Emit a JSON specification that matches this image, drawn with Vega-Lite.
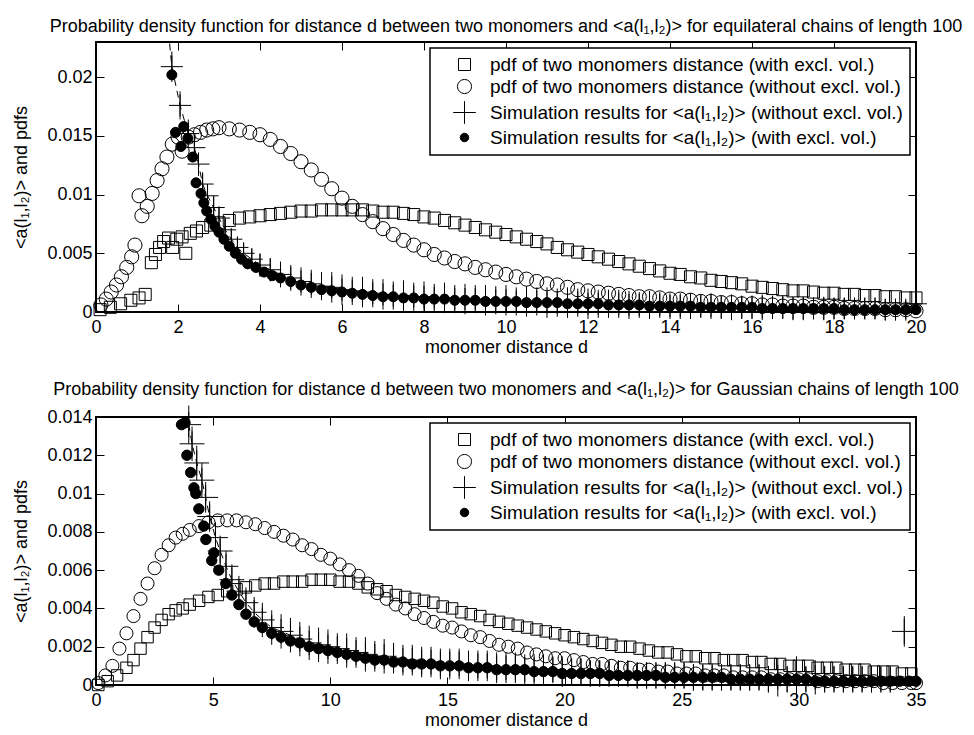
{
"$schema": "https://vega.github.io/schema/vega-lite/v6.json",
"background": "white",
"padding": {"left": 11, "top": 16, "right": 5, "bottom": 5},
"spacing": 23,
"datasets": {
"tS": [{"x":0.1,"y":0.0002},{"x":0.35,"y":0.0004},{"x":0.6,"y":0.0007},{"x":0.85,"y":0.001},{"x":1.05,"y":0.0012},{"x":1.2,"y":0.0015},{"x":1.35,"y":0.0042},{"x":1.45,"y":0.0049},{"x":1.55,"y":0.0055},{"x":1.65,"y":0.006},{"x":1.77,"y":0.0063},{"x":1.87,"y":0.0055},{"x":1.97,"y":0.0062},{"x":2.1,"y":0.0064},{"x":2.19,"y":0.005},{"x":2.3,"y":0.0067},{"x":2.45,"y":0.0069},{"x":2.6,"y":0.0072},{"x":2.8,"y":0.0074},{"x":3.0,"y":0.0076},{"x":3.25,"y":0.0078},{"x":3.5,"y":0.008},{"x":3.75,"y":0.0081},{"x":4.0,"y":0.0082},{"x":4.25,"y":0.0083},{"x":4.5,"y":0.0084},{"x":4.75,"y":0.0085},{"x":5.0,"y":0.0086},{"x":5.25,"y":0.0086},{"x":5.5,"y":0.0087},{"x":5.75,"y":0.0087},{"x":6.0,"y":0.0087},{"x":6.25,"y":0.0087},{"x":6.5,"y":0.0087},{"x":6.75,"y":0.0086},{"x":7.0,"y":0.0085},{"x":7.25,"y":0.0085},{"x":7.5,"y":0.0084},{"x":7.75,"y":0.0083},{"x":8.0,"y":0.0081},{"x":8.25,"y":0.008},{"x":8.5,"y":0.0078},{"x":8.75,"y":0.0076},{"x":9.0,"y":0.0074},{"x":9.25,"y":0.0072},{"x":9.5,"y":0.007},{"x":9.75,"y":0.0068},{"x":10.0,"y":0.0066},{"x":10.25,"y":0.0064},{"x":10.5,"y":0.0062},{"x":10.75,"y":0.006},{"x":11.0,"y":0.0058},{"x":11.25,"y":0.0055},{"x":11.5,"y":0.0053},{"x":11.75,"y":0.0051},{"x":12.0,"y":0.0049},{"x":12.25,"y":0.0047},{"x":12.5,"y":0.0045},{"x":12.75,"y":0.0043},{"x":13.0,"y":0.0041},{"x":13.25,"y":0.0039},{"x":13.5,"y":0.0037},{"x":13.75,"y":0.0035},{"x":14.0,"y":0.0033},{"x":14.25,"y":0.0032},{"x":14.5,"y":0.003},{"x":14.75,"y":0.0029},{"x":15.0,"y":0.0027},{"x":15.25,"y":0.0026},{"x":15.5,"y":0.0025},{"x":15.75,"y":0.0024},{"x":16.0,"y":0.0022},{"x":16.25,"y":0.0021},{"x":16.5,"y":0.002},{"x":16.75,"y":0.0019},{"x":17.0,"y":0.0018},{"x":17.25,"y":0.0018},{"x":17.5,"y":0.0017},{"x":17.75,"y":0.0016},{"x":18.0,"y":0.0016},{"x":18.25,"y":0.0015},{"x":18.5,"y":0.0015},{"x":18.75,"y":0.0014},{"x":19.0,"y":0.0014},{"x":19.25,"y":0.0013},{"x":19.5,"y":0.0013},{"x":19.75,"y":0.0012},{"x":20.0,"y":0.0012}],
"tC": [{"x":0.12,"y":0.0006},{"x":0.25,"y":0.0011},{"x":0.37,"y":0.0017},{"x":0.5,"y":0.0023},{"x":0.62,"y":0.003},{"x":0.75,"y":0.0038},{"x":0.87,"y":0.0047},{"x":0.95,"y":0.0057},{"x":1.05,"y":0.0099},{"x":1.12,"y":0.0082},{"x":1.25,"y":0.009},{"x":1.37,"y":0.0101},{"x":1.49,"y":0.0112},{"x":1.61,"y":0.0122},{"x":1.73,"y":0.0132},{"x":1.86,"y":0.0143},{"x":2.0,"y":0.0149},{"x":2.1,"y":0.0137},{"x":2.25,"y":0.0149},{"x":2.4,"y":0.0151},{"x":2.55,"y":0.0153},{"x":2.7,"y":0.0155},{"x":2.85,"y":0.0156},{"x":3.0,"y":0.0157},{"x":3.25,"y":0.0156},{"x":3.5,"y":0.0155},{"x":3.75,"y":0.0153},{"x":4.0,"y":0.0151},{"x":4.25,"y":0.0147},{"x":4.5,"y":0.0141},{"x":4.75,"y":0.0135},{"x":5.0,"y":0.0128},{"x":5.25,"y":0.0121},{"x":5.5,"y":0.0113},{"x":5.75,"y":0.0105},{"x":6.0,"y":0.0097},{"x":6.25,"y":0.009},{"x":6.5,"y":0.0083},{"x":6.75,"y":0.0077},{"x":7.0,"y":0.0071},{"x":7.25,"y":0.0066},{"x":7.5,"y":0.0061},{"x":7.75,"y":0.0057},{"x":8.0,"y":0.0053},{"x":8.25,"y":0.0049},{"x":8.5,"y":0.0046},{"x":8.75,"y":0.0043},{"x":9.0,"y":0.0041},{"x":9.25,"y":0.0038},{"x":9.5,"y":0.0036},{"x":9.75,"y":0.0034},{"x":10.0,"y":0.0032},{"x":10.25,"y":0.003},{"x":10.5,"y":0.0028},{"x":10.75,"y":0.0026},{"x":11.0,"y":0.0024},{"x":11.25,"y":0.0023},{"x":11.5,"y":0.0021},{"x":11.75,"y":0.0019},{"x":12.0,"y":0.0018},{"x":12.25,"y":0.0017},{"x":12.5,"y":0.0016},{"x":12.75,"y":0.0015},{"x":13.0,"y":0.0014},{"x":13.25,"y":0.0013},{"x":13.5,"y":0.0013},{"x":13.75,"y":0.0012},{"x":14.0,"y":0.0011},{"x":14.25,"y":0.0011},{"x":14.5,"y":0.001},{"x":14.75,"y":0.0009},{"x":15.0,"y":0.0009},{"x":15.25,"y":0.0008},{"x":15.5,"y":0.0008},{"x":15.75,"y":0.0007},{"x":16.0,"y":0.0007},{"x":16.25,"y":0.0006},{"x":16.5,"y":0.0006},{"x":16.75,"y":0.0005},{"x":17.0,"y":0.0005},{"x":17.25,"y":0.0005},{"x":17.5,"y":0.0004},{"x":17.75,"y":0.0004},{"x":18.0,"y":0.0004},{"x":18.25,"y":0.0003},{"x":18.5,"y":0.0003},{"x":18.75,"y":0.0003},{"x":19.0,"y":0.0003},{"x":19.25,"y":0.0002},{"x":19.5,"y":0.0002},{"x":19.75,"y":0.0002},{"x":20.0,"y":0.0001}],
"tX": [{"x":1.6,"y":0.03,"e":0.0013},{"x":1.85,"y":0.0209,"e":0.0013},{"x":2.05,"y":0.0176,"e":0.0012},{"x":2.25,"y":0.0152,"e":0.0012},{"x":2.4,"y":0.014,"e":0.0011},{"x":2.5,"y":0.0126,"e":0.001},{"x":2.6,"y":0.0109,"e":0.001},{"x":2.72,"y":0.0099,"e":0.001},{"x":2.87,"y":0.0089,"e":0.001},{"x":3.0,"y":0.008,"e":0.001},{"x":3.15,"y":0.007,"e":0.0009},{"x":3.3,"y":0.0062,"e":0.0009},{"x":3.45,"y":0.0055,"e":0.0009},{"x":3.6,"y":0.005,"e":0.0009},{"x":3.8,"y":0.0045,"e":0.0009},{"x":4.0,"y":0.004,"e":0.001},{"x":4.25,"y":0.0036,"e":0.001},{"x":4.5,"y":0.0032,"e":0.0011},{"x":4.75,"y":0.0029,"e":0.0011},{"x":5.0,"y":0.0026,"e":0.0012},{"x":5.25,"y":0.0024,"e":0.0012},{"x":5.5,"y":0.0022,"e":0.0012},{"x":5.75,"y":0.0021,"e":0.0013},{"x":6.0,"y":0.0019,"e":0.0013},{"x":6.25,"y":0.0018,"e":0.0012},{"x":6.5,"y":0.0017,"e":0.0013},{"x":6.75,"y":0.0016,"e":0.0012},{"x":7.0,"y":0.0015,"e":0.0013},{"x":7.25,"y":0.0014,"e":0.0012},{"x":7.5,"y":0.0014,"e":0.0013},{"x":7.75,"y":0.0013,"e":0.0012},{"x":8.0,"y":0.0013,"e":0.0013},{"x":8.25,"y":0.0012,"e":0.0012},{"x":8.5,"y":0.0012,"e":0.0013},{"x":8.75,"y":0.0011,"e":0.0012},{"x":9.0,"y":0.0011,"e":0.0013},{"x":9.25,"y":0.0011,"e":0.0012},{"x":9.5,"y":0.001,"e":0.0013},{"x":9.75,"y":0.001,"e":0.0012},{"x":10.0,"y":0.001,"e":0.0013},{"x":10.25,"y":0.0009,"e":0.0012},{"x":10.5,"y":0.0009,"e":0.0013},{"x":10.75,"y":0.0009,"e":0.0012},{"x":11.0,"y":0.0008,"e":0.0013},{"x":11.25,"y":0.0008,"e":0.0012},{"x":11.5,"y":0.0008,"e":0.0013},{"x":11.75,"y":0.0008,"e":0.0012},{"x":12.0,"y":0.0007,"e":0.0013},{"x":12.25,"y":0.0007,"e":0.0012},{"x":12.5,"y":0.0007,"e":0.0012},{"x":12.75,"y":0.0007,"e":0.0012},{"x":13.0,"y":0.0006,"e":0.0012},{"x":13.25,"y":0.0006,"e":0.0011},{"x":13.5,"y":0.0006,"e":0.0012},{"x":13.75,"y":0.0006,"e":0.0011},{"x":14.0,"y":0.0005,"e":0.0011},{"x":14.25,"y":0.0005,"e":0.0011},{"x":14.5,"y":0.0005,"e":0.0011},{"x":14.75,"y":0.0005,"e":0.001},{"x":15.0,"y":0.0005,"e":0.0011},{"x":15.25,"y":0.0004,"e":0.001},{"x":15.5,"y":0.0004,"e":0.0011},{"x":15.75,"y":0.0004,"e":0.001},{"x":16.0,"y":0.0004,"e":0.001},{"x":16.25,"y":0.0004,"e":0.0011},{"x":16.5,"y":0.0004,"e":0.001},{"x":16.75,"y":0.0004,"e":0.001},{"x":17.0,"y":0.0003,"e":0.001},{"x":17.25,"y":0.0003,"e":0.001},{"x":17.5,"y":0.0003,"e":0.0009},{"x":17.75,"y":0.0003,"e":0.001},{"x":18.0,"y":0.0003,"e":0.0009},{"x":18.25,"y":0.0003,"e":0.0009},{"x":18.5,"y":0.0003,"e":0.0009},{"x":18.75,"y":0.0003,"e":0.0009},{"x":19.0,"y":0.0003,"e":0.0009},{"x":19.25,"y":0.0002,"e":0.0009},{"x":19.5,"y":0.0002,"e":0.0008},{"x":19.75,"y":0.0002,"e":0.0008},{"x":20.0,"y":0.0007,"e":0.0008}],
"tD": [{"x":1.85,"y":0.0202},{"x":1.94,"y":0.0153},{"x":2.07,"y":0.0141},{"x":2.14,"y":0.0158},{"x":2.24,"y":0.0148},{"x":2.36,"y":0.0132},{"x":2.44,"y":0.011},{"x":2.56,"y":0.0101},{"x":2.63,"y":0.0093},{"x":2.7,"y":0.0086},{"x":2.8,"y":0.0079},{"x":2.9,"y":0.0073},{"x":3.0,"y":0.0068},{"x":3.12,"y":0.0062},{"x":3.25,"y":0.0056},{"x":3.4,"y":0.005},{"x":3.55,"y":0.0045},{"x":3.7,"y":0.0041},{"x":3.9,"y":0.0038},{"x":4.1,"y":0.0034},{"x":4.3,"y":0.0031},{"x":4.5,"y":0.0029},{"x":4.75,"y":0.0026},{"x":5.0,"y":0.0023},{"x":5.25,"y":0.0021},{"x":5.5,"y":0.0019},{"x":5.75,"y":0.0018},{"x":6.0,"y":0.0017},{"x":6.25,"y":0.0016},{"x":6.5,"y":0.0015},{"x":6.75,"y":0.0014},{"x":7.0,"y":0.0013},{"x":7.25,"y":0.0013},{"x":7.5,"y":0.0012},{"x":7.75,"y":0.0012},{"x":8.0,"y":0.0011},{"x":8.25,"y":0.0011},{"x":8.5,"y":0.0011},{"x":8.75,"y":0.001},{"x":9.0,"y":0.001},{"x":9.25,"y":0.001},{"x":9.5,"y":0.0009},{"x":9.75,"y":0.0009},{"x":10.0,"y":0.0009},{"x":10.25,"y":0.0009},{"x":10.5,"y":0.0008},{"x":10.75,"y":0.0008},{"x":11.0,"y":0.0008},{"x":11.25,"y":0.0008},{"x":11.5,"y":0.0007},{"x":11.75,"y":0.0007},{"x":12.0,"y":0.0007},{"x":12.25,"y":0.0007},{"x":12.5,"y":0.0006},{"x":12.75,"y":0.0006},{"x":13.0,"y":0.0006},{"x":13.25,"y":0.0006},{"x":13.5,"y":0.0005},{"x":13.75,"y":0.0005},{"x":14.0,"y":0.0005},{"x":14.25,"y":0.0005},{"x":14.5,"y":0.0005},{"x":14.75,"y":0.0004},{"x":15.0,"y":0.0004},{"x":15.25,"y":0.0004},{"x":15.5,"y":0.0004},{"x":15.75,"y":0.0004},{"x":16.0,"y":0.0004},{"x":16.25,"y":0.0003},{"x":16.5,"y":0.0003},{"x":16.75,"y":0.0003},{"x":17.0,"y":0.0003},{"x":17.25,"y":0.0003},{"x":17.5,"y":0.0003},{"x":17.75,"y":0.0003},{"x":18.0,"y":0.0003},{"x":18.25,"y":0.0002},{"x":18.5,"y":0.0002},{"x":18.75,"y":0.0002},{"x":19.0,"y":0.0002},{"x":19.25,"y":0.0002},{"x":19.5,"y":0.0002},{"x":19.75,"y":0.0002},{"x":20.0,"y":0.0002}],
"bS": [{"x":0.1,"y":0.0},{"x":0.5,"y":0.0002},{"x":0.9,"y":0.0005},{"x":1.3,"y":0.0009},{"x":1.6,"y":0.0013},{"x":1.9,"y":0.0019},{"x":2.2,"y":0.0025},{"x":2.5,"y":0.003},{"x":2.8,"y":0.0034},{"x":3.1,"y":0.0037},{"x":3.4,"y":0.0039},{"x":3.7,"y":0.004},{"x":4.0,"y":0.0042},{"x":4.4,"y":0.0044},{"x":4.8,"y":0.0046},{"x":5.2,"y":0.0047},{"x":5.6,"y":0.0049},{"x":6.0,"y":0.005},{"x":6.4,"y":0.0051},{"x":6.8,"y":0.0052},{"x":7.2,"y":0.0053},{"x":7.6,"y":0.0053},{"x":8.0,"y":0.0054},{"x":8.4,"y":0.0054},{"x":8.8,"y":0.0054},{"x":9.2,"y":0.0055},{"x":9.6,"y":0.0055},{"x":10.0,"y":0.0055},{"x":10.4,"y":0.0054},{"x":10.8,"y":0.0054},{"x":11.2,"y":0.0053},{"x":11.6,"y":0.0051},{"x":12.0,"y":0.005},{"x":12.4,"y":0.0049},{"x":12.8,"y":0.0047},{"x":13.2,"y":0.0046},{"x":13.6,"y":0.0045},{"x":14.0,"y":0.0044},{"x":14.4,"y":0.0043},{"x":14.8,"y":0.0041},{"x":15.2,"y":0.004},{"x":15.6,"y":0.0038},{"x":16.0,"y":0.0037},{"x":16.4,"y":0.0036},{"x":16.8,"y":0.0034},{"x":17.2,"y":0.0033},{"x":17.6,"y":0.0032},{"x":18.0,"y":0.0031},{"x":18.4,"y":0.003},{"x":18.8,"y":0.0029},{"x":19.2,"y":0.0028},{"x":19.6,"y":0.0027},{"x":20.0,"y":0.0026},{"x":20.4,"y":0.0025},{"x":20.8,"y":0.0024},{"x":21.2,"y":0.0023},{"x":21.6,"y":0.0022},{"x":22.0,"y":0.0021},{"x":22.4,"y":0.002},{"x":22.8,"y":0.002},{"x":23.2,"y":0.0019},{"x":23.6,"y":0.0018},{"x":24.0,"y":0.0017},{"x":24.4,"y":0.0017},{"x":24.8,"y":0.0016},{"x":25.2,"y":0.0015},{"x":25.6,"y":0.0015},{"x":26.0,"y":0.0014},{"x":26.4,"y":0.0014},{"x":26.8,"y":0.0013},{"x":27.2,"y":0.0013},{"x":27.6,"y":0.0013},{"x":28.0,"y":0.0012},{"x":28.4,"y":0.0012},{"x":28.8,"y":0.0011},{"x":29.2,"y":0.0011},{"x":29.6,"y":0.001},{"x":30.0,"y":0.001},{"x":30.4,"y":0.001},{"x":30.8,"y":0.0009},{"x":31.2,"y":0.0009},{"x":31.6,"y":0.0009},{"x":32.0,"y":0.0008},{"x":32.4,"y":0.0008},{"x":32.8,"y":0.0008},{"x":33.2,"y":0.0007},{"x":33.6,"y":0.0007},{"x":34.0,"y":0.0007},{"x":34.4,"y":0.0006},{"x":34.8,"y":0.0006}],
"bC": [{"x":0.1,"y":0.0001},{"x":0.4,"y":0.0005},{"x":0.7,"y":0.001},{"x":1.0,"y":0.0019},{"x":1.3,"y":0.0027},{"x":1.6,"y":0.0036},{"x":1.9,"y":0.0045},{"x":2.2,"y":0.0053},{"x":2.5,"y":0.0061},{"x":2.8,"y":0.0068},{"x":3.1,"y":0.0073},{"x":3.4,"y":0.0077},{"x":3.7,"y":0.0079},{"x":4.0,"y":0.0081},{"x":4.4,"y":0.0083},{"x":4.8,"y":0.0085},{"x":5.2,"y":0.0086},{"x":5.6,"y":0.0086},{"x":6.0,"y":0.0086},{"x":6.4,"y":0.0085},{"x":6.8,"y":0.0084},{"x":7.2,"y":0.0082},{"x":7.6,"y":0.008},{"x":8.0,"y":0.0078},{"x":8.4,"y":0.0076},{"x":8.8,"y":0.0073},{"x":9.2,"y":0.0071},{"x":9.6,"y":0.0068},{"x":10.0,"y":0.0066},{"x":10.4,"y":0.0063},{"x":10.8,"y":0.006},{"x":11.2,"y":0.0057},{"x":11.6,"y":0.0053},{"x":12.0,"y":0.0048},{"x":12.4,"y":0.0045},{"x":12.8,"y":0.0042},{"x":13.2,"y":0.004},{"x":13.6,"y":0.0037},{"x":14.0,"y":0.0035},{"x":14.4,"y":0.0033},{"x":14.8,"y":0.0031},{"x":15.2,"y":0.003},{"x":15.6,"y":0.0028},{"x":16.0,"y":0.0026},{"x":16.4,"y":0.0025},{"x":16.8,"y":0.0023},{"x":17.2,"y":0.0021},{"x":17.6,"y":0.002},{"x":18.0,"y":0.0019},{"x":18.4,"y":0.0017},{"x":18.8,"y":0.0016},{"x":19.2,"y":0.0015},{"x":19.6,"y":0.0014},{"x":20.0,"y":0.0014},{"x":20.4,"y":0.0013},{"x":20.8,"y":0.0012},{"x":21.2,"y":0.0011},{"x":21.6,"y":0.0011},{"x":22.0,"y":0.001},{"x":22.4,"y":0.0009},{"x":22.8,"y":0.0009},{"x":23.2,"y":0.0008},{"x":23.6,"y":0.0008},{"x":24.0,"y":0.0007},{"x":24.4,"y":0.0007},{"x":24.8,"y":0.0006},{"x":25.2,"y":0.0006},{"x":25.6,"y":0.0006},{"x":26.0,"y":0.0005},{"x":26.4,"y":0.0005},{"x":26.8,"y":0.0005},{"x":27.2,"y":0.0004},{"x":27.6,"y":0.0004},{"x":28.0,"y":0.0004},{"x":28.4,"y":0.0004},{"x":28.8,"y":0.0003},{"x":29.2,"y":0.0003},{"x":29.6,"y":0.0003},{"x":30.0,"y":0.0003},{"x":30.4,"y":0.0003},{"x":30.8,"y":0.0002},{"x":31.2,"y":0.0002},{"x":31.6,"y":0.0002},{"x":32.0,"y":0.0002},{"x":32.4,"y":0.0002},{"x":32.8,"y":0.0002},{"x":33.2,"y":0.0002},{"x":33.6,"y":0.0001},{"x":34.0,"y":0.0001},{"x":34.4,"y":0.0001},{"x":34.8,"y":0.0001},{"x":35.0,"y":0.0001}],
"bX": [{"x":3.55,"y":0.018,"e":0.0008},{"x":3.96,"y":0.0136,"e":0.001},{"x":4.1,"y":0.0126,"e":0.0009},{"x":4.3,"y":0.0116,"e":0.0009},{"x":4.52,"y":0.0107,"e":0.0009},{"x":4.68,"y":0.0098,"e":0.0008},{"x":4.85,"y":0.0088,"e":0.0008},{"x":5.1,"y":0.0077,"e":0.0008},{"x":5.3,"y":0.007,"e":0.0008},{"x":5.55,"y":0.0062,"e":0.0008},{"x":5.8,"y":0.0055,"e":0.0008},{"x":6.1,"y":0.0049,"e":0.0008},{"x":6.4,"y":0.0043,"e":0.0008},{"x":6.75,"y":0.0038,"e":0.0008},{"x":7.1,"y":0.0034,"e":0.0009},{"x":7.5,"y":0.003,"e":0.0009},{"x":7.9,"y":0.0028,"e":0.0009},{"x":8.3,"y":0.0026,"e":0.0009},{"x":8.7,"y":0.0024,"e":0.0009},{"x":9.1,"y":0.0022,"e":0.0009},{"x":9.5,"y":0.0021,"e":0.0009},{"x":9.9,"y":0.002,"e":0.0009},{"x":10.3,"y":0.0019,"e":0.0008},{"x":10.7,"y":0.0018,"e":0.0009},{"x":11.1,"y":0.0017,"e":0.0008},{"x":11.5,"y":0.0016,"e":0.0009},{"x":11.9,"y":0.0015,"e":0.0008},{"x":12.3,"y":0.0015,"e":0.0009},{"x":12.7,"y":0.0014,"e":0.0008},{"x":13.1,"y":0.0013,"e":0.0008},{"x":13.5,"y":0.0013,"e":0.0008},{"x":13.9,"y":0.0012,"e":0.0008},{"x":14.3,"y":0.0012,"e":0.0008},{"x":14.7,"y":0.0011,"e":0.0008},{"x":15.1,"y":0.0011,"e":0.0008},{"x":15.5,"y":0.0011,"e":0.0008},{"x":15.9,"y":0.001,"e":0.0008},{"x":16.3,"y":0.001,"e":0.0008},{"x":16.7,"y":0.001,"e":0.0008},{"x":17.1,"y":0.0009,"e":0.0008},{"x":17.5,"y":0.0009,"e":0.0008},{"x":17.9,"y":0.0009,"e":0.0008},{"x":18.3,"y":0.0008,"e":0.0008},{"x":18.7,"y":0.0008,"e":0.0008},{"x":19.1,"y":0.0008,"e":0.0008},{"x":19.5,"y":0.0008,"e":0.0007},{"x":19.9,"y":0.0007,"e":0.0008},{"x":20.3,"y":0.0007,"e":0.0007},{"x":20.7,"y":0.0007,"e":0.0007},{"x":21.1,"y":0.0006,"e":0.0007},{"x":21.5,"y":0.0006,"e":0.0007},{"x":21.9,"y":0.0006,"e":0.0007},{"x":22.3,"y":0.0006,"e":0.0007},{"x":22.7,"y":0.0006,"e":0.0007},{"x":23.1,"y":0.0005,"e":0.0007},{"x":23.5,"y":0.0005,"e":0.0007},{"x":23.9,"y":0.0005,"e":0.0007},{"x":24.3,"y":0.0005,"e":0.0007},{"x":24.7,"y":0.0005,"e":0.0007},{"x":25.1,"y":0.0005,"e":0.0007},{"x":25.5,"y":0.0004,"e":0.0007},{"x":25.9,"y":0.0004,"e":0.0007},{"x":26.3,"y":0.0004,"e":0.0007},{"x":26.7,"y":0.0004,"e":0.0007},{"x":27.1,"y":0.0004,"e":0.0007},{"x":27.5,"y":0.0004,"e":0.0007},{"x":27.9,"y":0.0004,"e":0.0007},{"x":28.3,"y":0.0004,"e":0.0007},{"x":28.7,"y":0.0003,"e":0.0007},{"x":29.1,"y":0.0004,"e":0.001},{"x":29.5,"y":0.0003,"e":0.0007},{"x":29.9,"y":0.0004,"e":0.0011},{"x":30.3,"y":0.0003,"e":0.0007},{"x":30.7,"y":0.0004,"e":0.0009},{"x":31.1,"y":0.0003,"e":0.0007},{"x":31.5,"y":0.0003,"e":0.0007},{"x":31.9,"y":0.0003,"e":0.0007},{"x":32.3,"y":0.0003,"e":0.0007},{"x":32.7,"y":0.0003,"e":0.0007},{"x":33.1,"y":0.0003,"e":0.0007},{"x":33.5,"y":0.0003,"e":0.0007},{"x":33.9,"y":0.0003,"e":0.0007},{"x":34.5,"y":0.0028,"e":0.0008}],
"bD": [{"x":3.65,"y":0.0136},{"x":3.8,"y":0.0137},{"x":3.88,"y":0.012},{"x":4.04,"y":0.0111},{"x":4.18,"y":0.0103},{"x":4.26,"y":0.01},{"x":4.39,"y":0.0092},{"x":4.6,"y":0.0083},{"x":4.69,"y":0.0076},{"x":4.94,"y":0.0065},{"x":5.03,"y":0.0069},{"x":5.24,"y":0.006},{"x":5.54,"y":0.0053},{"x":5.8,"y":0.0047},{"x":6.1,"y":0.0042},{"x":6.4,"y":0.0037},{"x":6.75,"y":0.0033},{"x":7.1,"y":0.003},{"x":7.5,"y":0.0027},{"x":7.9,"y":0.0025},{"x":8.3,"y":0.0023},{"x":8.7,"y":0.0022},{"x":9.1,"y":0.002},{"x":9.5,"y":0.0019},{"x":9.9,"y":0.0018},{"x":10.3,"y":0.0017},{"x":10.7,"y":0.0016},{"x":11.1,"y":0.0015},{"x":11.5,"y":0.0014},{"x":11.9,"y":0.0013},{"x":12.3,"y":0.0013},{"x":12.7,"y":0.0012},{"x":13.1,"y":0.0012},{"x":13.5,"y":0.0011},{"x":13.9,"y":0.0011},{"x":14.3,"y":0.0011},{"x":14.7,"y":0.001},{"x":15.1,"y":0.001},{"x":15.5,"y":0.001},{"x":15.9,"y":0.0009},{"x":16.3,"y":0.0009},{"x":16.7,"y":0.0009},{"x":17.1,"y":0.0008},{"x":17.5,"y":0.0008},{"x":17.9,"y":0.0008},{"x":18.3,"y":0.0008},{"x":18.7,"y":0.0007},{"x":19.1,"y":0.0007},{"x":19.5,"y":0.0007},{"x":19.9,"y":0.0006},{"x":20.3,"y":0.0006},{"x":20.7,"y":0.0006},{"x":21.1,"y":0.0006},{"x":21.5,"y":0.0006},{"x":21.9,"y":0.0005},{"x":22.3,"y":0.0005},{"x":22.7,"y":0.0005},{"x":23.1,"y":0.0005},{"x":23.5,"y":0.0005},{"x":23.9,"y":0.0005},{"x":24.3,"y":0.0004},{"x":24.7,"y":0.0004},{"x":25.1,"y":0.0004},{"x":25.5,"y":0.0004},{"x":25.9,"y":0.0004},{"x":26.3,"y":0.0004},{"x":26.7,"y":0.0004},{"x":27.1,"y":0.0003},{"x":27.5,"y":0.0003},{"x":27.9,"y":0.0003},{"x":28.3,"y":0.0003},{"x":28.7,"y":0.0003},{"x":29.1,"y":0.0003},{"x":29.5,"y":0.0003},{"x":29.9,"y":0.0003},{"x":30.3,"y":0.0003},{"x":30.7,"y":0.0002},{"x":31.1,"y":0.0002},{"x":31.5,"y":0.0002},{"x":31.9,"y":0.0002},{"x":32.3,"y":0.0002},{"x":32.7,"y":0.0002},{"x":33.1,"y":0.0002},{"x":33.5,"y":0.0002},{"x":33.9,"y":0.0002},{"x":34.3,"y":0.0002},{"x":34.7,"y":0.0002},{"x":35.0,"y":0.0002}]
},
"resolve": {"scale": {"shape": "independent", "fill": "independent", "stroke": "independent"}, "legend": {"shape": "independent", "fill": "independent", "stroke": "independent"}},
"vconcat": [
{
"title": {"text": "Probability density function for distance d between two monomers and <a(l₁,l₂)> for equilateral chains of length 100", "fontSize": 18, "fontWeight": "normal", "font": "Liberation Sans", "color": "black", "offset": 6, "anchor": "middle"},
"width": 820, "height": 270,
"resolve": {"axis": {"x": "independent", "y": "independent"}},
"layer": [
{"data": {"name": "tS"}, "mark": {"type": "point", "strokeWidth": 1, "opacity": 1, "size": 200},
 "encoding": {
  "x": {"field": "x", "type": "quantitative", "scale": {"domain": [0, 20], "nice": false}, "axis": {"orient": "bottom", "values": [0,2,4,6,8,10,12,14,16,18,20], "title": "monomer distance d"}},
  "y": {"field": "y", "type": "quantitative", "scale": {"domain": [0, 0.023], "nice": false}, "axis": {"orient": "left", "values": [0,0.005,0.01,0.015,0.02], "format": "~g", "title": "<a(l₁,l₂)> and pdfs"}},
  "shape": {"datum": "pdf of two monomers distance (with excl. vol.)", "type": "nominal", "scale": {"domain": ["pdf of two monomers distance (with excl. vol.)", "pdf of two monomers distance (without excl. vol.)", "Simulation results for <a(l₁,l₂)> (without excl. vol.)", "Simulation results for <a(l₁,l₂)> (with excl. vol.)"], "range": ["M-0.85,-0.85H0.85V0.85H-0.85Z", "circle", "M-1.6,0H1.6M0,-1.6V1.6", "M-0.6,0A0.6,0.6,0,1,0,0.6,0A0.6,0.6,0,1,0,-0.6,0Z"]}},
  "fill": {"datum": "pdf of two monomers distance (with excl. vol.)", "type": "nominal", "scale": {"domain": ["pdf of two monomers distance (with excl. vol.)", "pdf of two monomers distance (without excl. vol.)", "Simulation results for <a(l₁,l₂)> (without excl. vol.)", "Simulation results for <a(l₁,l₂)> (with excl. vol.)"], "range": ["transparent", "transparent", "transparent", "black"]}},
  "stroke": {"datum": "pdf of two monomers distance (with excl. vol.)", "type": "nominal", "scale": {"domain": ["pdf of two monomers distance (with excl. vol.)", "pdf of two monomers distance (without excl. vol.)", "Simulation results for <a(l₁,l₂)> (without excl. vol.)", "Simulation results for <a(l₁,l₂)> (with excl. vol.)"], "range": ["black", "black", "black", "black"]}}
 }},
{"data": {"name": "tC"}, "mark": {"type": "point", "strokeWidth": 1, "opacity": 1, "size": 200},
 "encoding": {
  "x": {"field": "x", "type": "quantitative", "axis": {"orient": "top", "values": [0,2,4,6,8,10,12,14,16,18,20], "labels": false, "title": null}},
  "y": {"field": "y", "type": "quantitative", "axis": {"orient": "right", "values": [0,0.005,0.01,0.015,0.02], "labels": false, "title": null}},
  "shape": {"datum": "pdf of two monomers distance (without excl. vol.)", "type": "nominal"},
  "fill": {"datum": "pdf of two monomers distance (without excl. vol.)", "type": "nominal"},
  "stroke": {"datum": "pdf of two monomers distance (without excl. vol.)", "type": "nominal"}
 }},
{"data": {"name": "tX"}, "mark": {"type": "line", "color": "black", "strokeWidth": 1, "strokeDash": [7, 5], "clip": true},
 "encoding": {"x": {"field": "x", "type": "quantitative", "axis": null}, "y": {"field": "y", "type": "quantitative", "axis": null}}},
{"data": {"name": "tX"}, "transform": [{"filter": "datum.y < 0.023"}], "mark": {"type": "errorbar", "color": "black", "thickness": 1},
 "encoding": {"x": {"field": "x", "type": "quantitative", "axis": null}, "y": {"field": "y", "type": "quantitative", "axis": null}, "yError": {"field": "e"}}},
{"data": {"name": "tX"}, "transform": [{"filter": "datum.y < 0.023"}], "mark": {"type": "point", "strokeWidth": 1, "opacity": 1, "size": 190},
 "encoding": {
  "x": {"field": "x", "type": "quantitative", "axis": null},
  "y": {"field": "y", "type": "quantitative", "axis": null},
  "shape": {"datum": "Simulation results for <a(l₁,l₂)> (without excl. vol.)", "type": "nominal"},
  "fill": {"datum": "Simulation results for <a(l₁,l₂)> (without excl. vol.)", "type": "nominal"},
  "stroke": {"datum": "Simulation results for <a(l₁,l₂)> (without excl. vol.)", "type": "nominal"}
 }},
{"data": {"name": "tD"}, "mark": {"type": "point", "strokeWidth": 1, "opacity": 1, "size": 280},
 "encoding": {
  "x": {"field": "x", "type": "quantitative", "axis": null},
  "y": {"field": "y", "type": "quantitative", "axis": null},
  "shape": {"datum": "Simulation results for <a(l₁,l₂)> (with excl. vol.)", "type": "nominal"},
  "fill": {"datum": "Simulation results for <a(l₁,l₂)> (with excl. vol.)", "type": "nominal"},
  "stroke": {"datum": "Simulation results for <a(l₁,l₂)> (with excl. vol.)", "type": "nominal"}
 }}
]
},
{
"title": {"text": "Probability density function for distance d between two monomers and <a(l₁,l₂)> for Gaussian chains of length 100", "fontSize": 18, "fontWeight": "normal", "font": "Liberation Sans", "color": "black", "offset": 6, "anchor": "middle"},
"width": 820, "height": 268,
"resolve": {"axis": {"x": "independent", "y": "independent"}},
"layer": [
{"data": {"name": "bS"}, "mark": {"type": "point", "strokeWidth": 1, "opacity": 1, "size": 180},
 "encoding": {
  "x": {"field": "x", "type": "quantitative", "scale": {"domain": [0, 35], "nice": false}, "axis": {"orient": "bottom", "values": [0,5,10,15,20,25,30,35], "title": "monomer distance d"}},
  "y": {"field": "y", "type": "quantitative", "scale": {"domain": [0, 0.014], "nice": false}, "axis": {"orient": "left", "values": [0,0.002,0.004,0.006,0.008,0.01,0.012,0.014], "format": "~g", "title": "<a(l₁,l₂)> and pdfs"}},
  "shape": {"datum": "pdf of two monomers distance (with excl. vol.)", "type": "nominal", "scale": {"domain": ["pdf of two monomers distance (with excl. vol.)", "pdf of two monomers distance (without excl. vol.)", "Simulation results for <a(l₁,l₂)> (without excl. vol.)", "Simulation results for <a(l₁,l₂)> (with excl. vol.)"], "range": ["M-0.85,-0.85H0.85V0.85H-0.85Z", "circle", "M-1.6,0H1.6M0,-1.6V1.6", "M-0.6,0A0.6,0.6,0,1,0,0.6,0A0.6,0.6,0,1,0,-0.6,0Z"]}},
  "fill": {"datum": "pdf of two monomers distance (with excl. vol.)", "type": "nominal", "scale": {"domain": ["pdf of two monomers distance (with excl. vol.)", "pdf of two monomers distance (without excl. vol.)", "Simulation results for <a(l₁,l₂)> (without excl. vol.)", "Simulation results for <a(l₁,l₂)> (with excl. vol.)"], "range": ["transparent", "transparent", "transparent", "black"]}},
  "stroke": {"datum": "pdf of two monomers distance (with excl. vol.)", "type": "nominal", "scale": {"domain": ["pdf of two monomers distance (with excl. vol.)", "pdf of two monomers distance (without excl. vol.)", "Simulation results for <a(l₁,l₂)> (without excl. vol.)", "Simulation results for <a(l₁,l₂)> (with excl. vol.)"], "range": ["black", "black", "black", "black"]}}
 }},
{"data": {"name": "bC"}, "mark": {"type": "point", "strokeWidth": 1, "opacity": 1, "size": 170},
 "encoding": {
  "x": {"field": "x", "type": "quantitative", "axis": {"orient": "top", "values": [0,5,10,15,20,25,30,35], "labels": false, "title": null}},
  "y": {"field": "y", "type": "quantitative", "axis": {"orient": "right", "values": [0,0.002,0.004,0.006,0.008,0.01,0.012,0.014], "labels": false, "title": null}},
  "shape": {"datum": "pdf of two monomers distance (without excl. vol.)", "type": "nominal"},
  "fill": {"datum": "pdf of two monomers distance (without excl. vol.)", "type": "nominal"},
  "stroke": {"datum": "pdf of two monomers distance (without excl. vol.)", "type": "nominal"}
 }},
{"data": {"name": "bX"}, "transform": [{"filter": "datum.x < 34"}], "mark": {"type": "line", "color": "black", "strokeWidth": 1, "strokeDash": [7, 5], "clip": true},
 "encoding": {"x": {"field": "x", "type": "quantitative", "axis": null}, "y": {"field": "y", "type": "quantitative", "axis": null}}},
{"data": {"name": "bX"}, "transform": [{"filter": "datum.y < 0.014"}], "mark": {"type": "errorbar", "color": "black", "thickness": 1},
 "encoding": {"x": {"field": "x", "type": "quantitative", "axis": null}, "y": {"field": "y", "type": "quantitative", "axis": null}, "yError": {"field": "e"}}},
{"data": {"name": "bX"}, "transform": [{"filter": "datum.y < 0.014"}], "mark": {"type": "point", "strokeWidth": 1, "opacity": 1, "size": 240},
 "encoding": {
  "x": {"field": "x", "type": "quantitative", "axis": null},
  "y": {"field": "y", "type": "quantitative", "axis": null},
  "shape": {"datum": "Simulation results for <a(l₁,l₂)> (without excl. vol.)", "type": "nominal"},
  "fill": {"datum": "Simulation results for <a(l₁,l₂)> (without excl. vol.)", "type": "nominal"},
  "stroke": {"datum": "Simulation results for <a(l₁,l₂)> (without excl. vol.)", "type": "nominal"}
 }},
{"data": {"name": "bD"}, "mark": {"type": "point", "strokeWidth": 1, "opacity": 1, "size": 300},
 "encoding": {
  "x": {"field": "x", "type": "quantitative", "axis": null},
  "y": {"field": "y", "type": "quantitative", "axis": null},
  "shape": {"datum": "Simulation results for <a(l₁,l₂)> (with excl. vol.)", "type": "nominal"},
  "fill": {"datum": "Simulation results for <a(l₁,l₂)> (with excl. vol.)", "type": "nominal"},
  "stroke": {"datum": "Simulation results for <a(l₁,l₂)> (with excl. vol.)", "type": "nominal"}
 }}
]
}
],
"config": {
 "font": "Liberation Sans",
 "view": {"stroke": "black", "strokeWidth": 2},
 "axis": {"labelFont": "Liberation Sans", "titleFont": "Liberation Sans", "labelFontSize": 18, "titleFontSize": 18, "titleFontWeight": "normal", "labelColor": "black", "titleColor": "black", "tickColor": "black", "domain": false, "grid": false, "tickSize": -8, "tickWidth": 1, "labelFlush": false},
 "axisX": {"labelPadding": 14, "titlePadding": 2},
 "axisY": {"labelPadding": 12, "titlePadding": 16},
 "legend": {"orient": "top-right", "offset": 6, "title": null, "strokeColor": "black", "strokeWidth": 1.5, "fillColor": "white", "padding": 7, "labelFont": "Liberation Sans", "labelFontSize": 19, "labelColor": "black", "labelLimit": 1000, "symbolSize": 200, "symbolStrokeWidth": 1, "symbolOffset": 18, "labelOffset": 16, "rowPadding": 2}
}
}
